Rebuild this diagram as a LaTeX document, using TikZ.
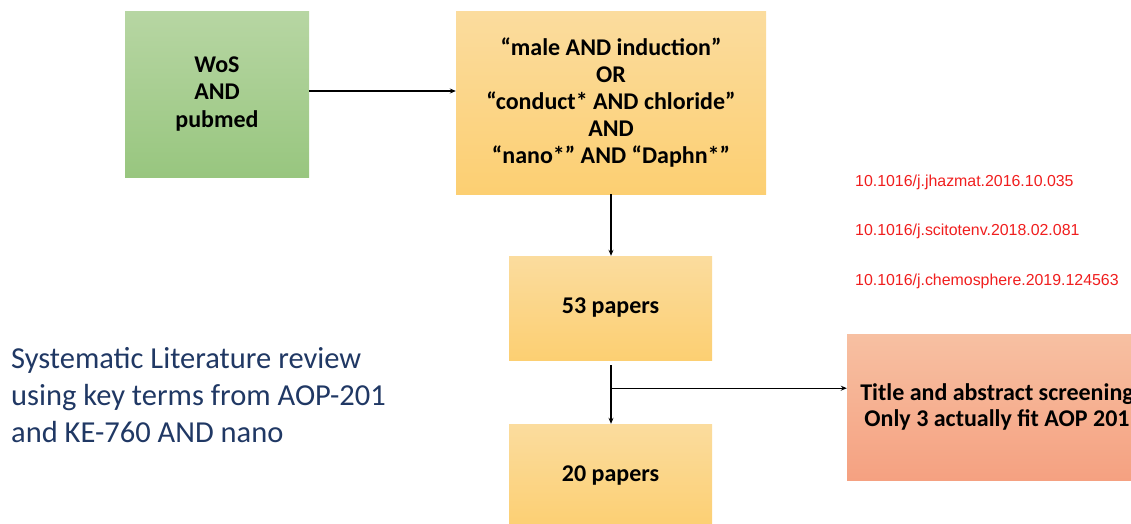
\documentclass[tikz,border=0pt]{standalone}
\usepackage{fontspec}
\setmainfont{Carlito}
\newfontfamily\doifont{Liberation Sans}
\usetikzlibrary{arrows.meta,calc}
\definecolor{navy}{HTML}{203864}
\definecolor{doired}{HTML}{F01E1E}
\begin{document}
\begin{tikzpicture}[x=1pt,y=-1pt,
  greenbox/.style={draw=none,top color={rgb,255:red,183;green,214;blue,163},bottom color={rgb,255:red,152;green,198;blue,127},
    minimum width=184pt,minimum height=166pt,inner sep=0pt,align=center,font=\bfseries\fontsize{24}{27.5}\selectfont},
  yellowbox/.style={draw=none,top color={rgb,255:red,251;green,220;blue,158},bottom color={rgb,255:red,252;green,207;blue,114},
    inner sep=0pt,align=center,font=\bfseries\fontsize{24}{27}\selectfont},
  redbox/.style={draw=none,top color={rgb,255:red,247;green,192;blue,162},bottom color={rgb,255:red,245;green,161;blue,129},
    inner sep=0pt,align=center,font=\bfseries\fontsize{24}{26.5}\selectfont},
  conn/.style={line width=1.3pt,-{Stealth[length=6pt,width=5pt]}},
  doi/.style={anchor=west,inner sep=0pt,text=doired,font=\doifont\fontsize{15.9}{18}\selectfont}]
\useasboundingbox (0,0) rectangle (1131,523);
\clip (0,0) rectangle (1131,523);

% sources
\node[greenbox] (wos) at (217,94) {WoS\\AND\\pubmed};

% search query
\node[yellowbox,minimum width=310pt,minimum height=183pt] (query) at (611,102.5)
  {“male AND induction”\\OR\\“conduct* AND chloride”\\AND\\“nano*” AND “Daphn*”};

% paper counts
\node[yellowbox,minimum width=203pt,minimum height=104pt] (p53) at (610.5,308) {53 papers};
\node[yellowbox,minimum width=203pt,minimum height=104pt] (p20) at (610.5,476) {20 papers};

% screening
\node[redbox,minimum width=300pt,minimum height=146pt] (screen) at (997,407)
  {Title and abstract screening\\Only 3 actually fit AOP 201};

% DOIs of the retained papers
\node[doi] (d1) at (855,182) {10.1016/j.jhazmat.2016.10.035};
\node[doi] (d2) at (855,231) {10.1016/j.scitotenv.2018.02.081};
\node[doi] (d3) at (855,281) {10.1016/j.chemosphere.2019.124563};

% caption
\node[anchor=west,align=left,inner sep=0pt,text=navy,font=\fontsize{30.5}{37}\selectfont] (cap) at (11,395)
  {Systematic Literature review\\using key terms from AOP-201\\and KE-760 AND nano};

% connectors
\coordinate (out53) at ($(p53.south)+(0.5,5)$);
\coordinate (split) at ($(out53)+(0,23)$);
\draw[conn] (wos.east |- 0,91) -- (query.west |- 0,91);
\draw[conn] (query.south -| out53) -- (p53.north -| out53);
\draw[conn] (out53) -- (p20.north -| out53);
\draw[conn] (split) -- (screen.west |- split);
\end{tikzpicture}
\end{document}
